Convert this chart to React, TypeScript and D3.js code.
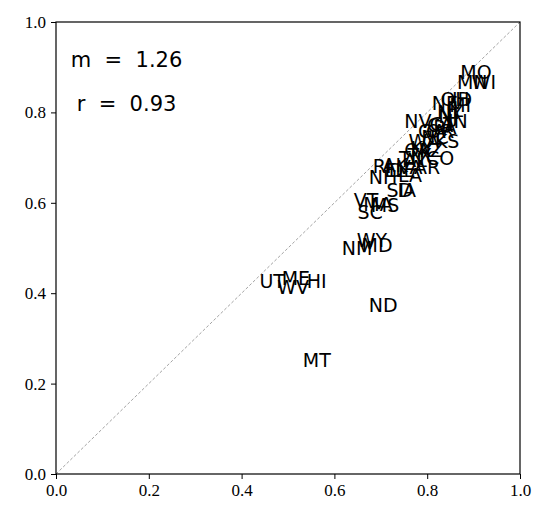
import * as d3 from 'd3'
import { useRef, useEffect } from 'react'

const W = 549, H = 523
const M = { top: 22, right: 29, bottom: 49, left: 56 }

// state abbreviations with (x, y) values
const states = ['UT', 'ME', 'WV', 'HI', 'ND', 'MT', 'NM', 'MD', 'WY', 'SC', 'VT', 'MA', 'MS', 'SD', 'IA', 'NH', 'RI', 'DE', 'AK', 'VA', 'AR', 'CO', 'TX', 'KY', 'WA', 'KS', 'GA', 'OR', 'PA', 'NV', 'IN', 'NJ', 'IL', 'NE', 'OH', 'ID', 'MO', 'MN', 'WI', 'AL', 'AZ', 'CA', 'FL', 'LA', 'NY', 'NC', 'OK', 'TN', 'MI', 'CT']
const xs = [0.466, 0.517, 0.511, 0.562, 0.705, 0.562, 0.649, 0.692, 0.681, 0.677, 0.668, 0.694, 0.709, 0.741, 0.756, 0.705, 0.703, 0.746, 0.731, 0.763, 0.800, 0.828, 0.784, 0.789, 0.793, 0.843, 0.810, 0.828, 0.838, 0.780, 0.866, 0.845, 0.860, 0.838, 0.860, 0.875, 0.905, 0.897, 0.922, 0.774, 0.806, 0.828, 0.731, 0.763, 0.849, 0.817, 0.780, 0.767, 0.871, 0.832]
const ys = [0.427, 0.434, 0.414, 0.427, 0.374, 0.252, 0.500, 0.507, 0.518, 0.580, 0.606, 0.597, 0.595, 0.628, 0.628, 0.657, 0.681, 0.673, 0.684, 0.679, 0.679, 0.699, 0.706, 0.721, 0.737, 0.737, 0.759, 0.759, 0.768, 0.781, 0.781, 0.792, 0.805, 0.821, 0.830, 0.830, 0.889, 0.867, 0.867, 0.695, 0.717, 0.772, 0.673, 0.662, 0.801, 0.745, 0.717, 0.699, 0.816, 0.775]
const ticks = [0, 0.2, 0.4, 0.6, 0.8, 1.0]
const slope = 1.26, corr = 0.93

export default function App() {
  const svgRef = useRef<SVGSVGElement>(null)

  useEffect(() => {
    const svg = d3.select(svgRef.current)
    svg.selectAll('*').remove()

    const x = d3.scaleLinear().domain([0, 1]).range([M.left, W - M.right])
    const y = d3.scaleLinear().domain([0, 1]).range([H - M.bottom, M.top])

    // diagonal reference line
    svg.append('line')
      .attr('x1', x(0)).attr('y1', y(0)).attr('x2', x(1)).attr('y2', y(1))
      .attr('stroke', '#8c8c8c').attr('stroke-width', 0.8).attr('stroke-dasharray', '3,2')

    // state labels
    const data = states.map((s, i) => ({ s, x: xs[i], y: ys[i] }))
    svg.append('g').selectAll('text').data(data).join('text')
      .attr('x', d => x(d.x)).attr('y', d => y(d.y))
      .attr('text-anchor', 'middle').attr('dominant-baseline', 'central')
      .attr('font-family', 'DejaVu Sans').attr('font-size', 19).attr('fill', '#000')
      .text(d => d.s)

    // axes
    const ax = svg.append('g').attr('transform', `translate(0,${y(0)})`)
      .call(d3.axisBottom(x).tickValues(ticks).tickFormat(d3.format('.1f')).tickSizeOuter(0).tickSize(5).tickPadding(5))
    const ay = svg.append('g').attr('transform', `translate(${x(0)},0)`)
      .call(d3.axisLeft(y).tickValues(ticks).tickFormat(d3.format('.1f')).tickSizeOuter(0).tickSize(5).tickPadding(5))
    for (const a of [ax, ay]) {
      a.select('.domain').remove()
      a.selectAll('line').attr('stroke', '#000').attr('stroke-width', 1)
      a.selectAll('text').attr('font-family', 'Liberation Serif').attr('font-size', 17).attr('fill', '#000')
    }

    // frame
    svg.append('rect')
      .attr('x', x(0)).attr('y', y(1)).attr('width', x(1) - x(0)).attr('height', y(0) - y(1))
      .attr('fill', 'none').attr('stroke', '#000').attr('stroke-width', 1.2)

    // fit annotations
    const ann = [`m  =  ${slope.toFixed(2)}`, `r  =  ${corr.toFixed(2)}`]
    ann.forEach((t, i) => {
      svg.append('text').attr('x', x(0.152)).attr('y', y(i === 0 ? 0.916 : 0.818))
        .attr('text-anchor', 'middle').attr('dominant-baseline', 'central')
        .attr('font-family', 'DejaVu Sans').attr('font-size', 21).attr('fill', '#000')
        .style('white-space', 'pre')
        .text(t)
    })
  }, [])

  return (
    <div style={{ position: 'absolute', left: 0, top: 0, background: '#fff' }}>
      <svg ref={svgRef} width={W} height={H} />
    </div>
  )
}
